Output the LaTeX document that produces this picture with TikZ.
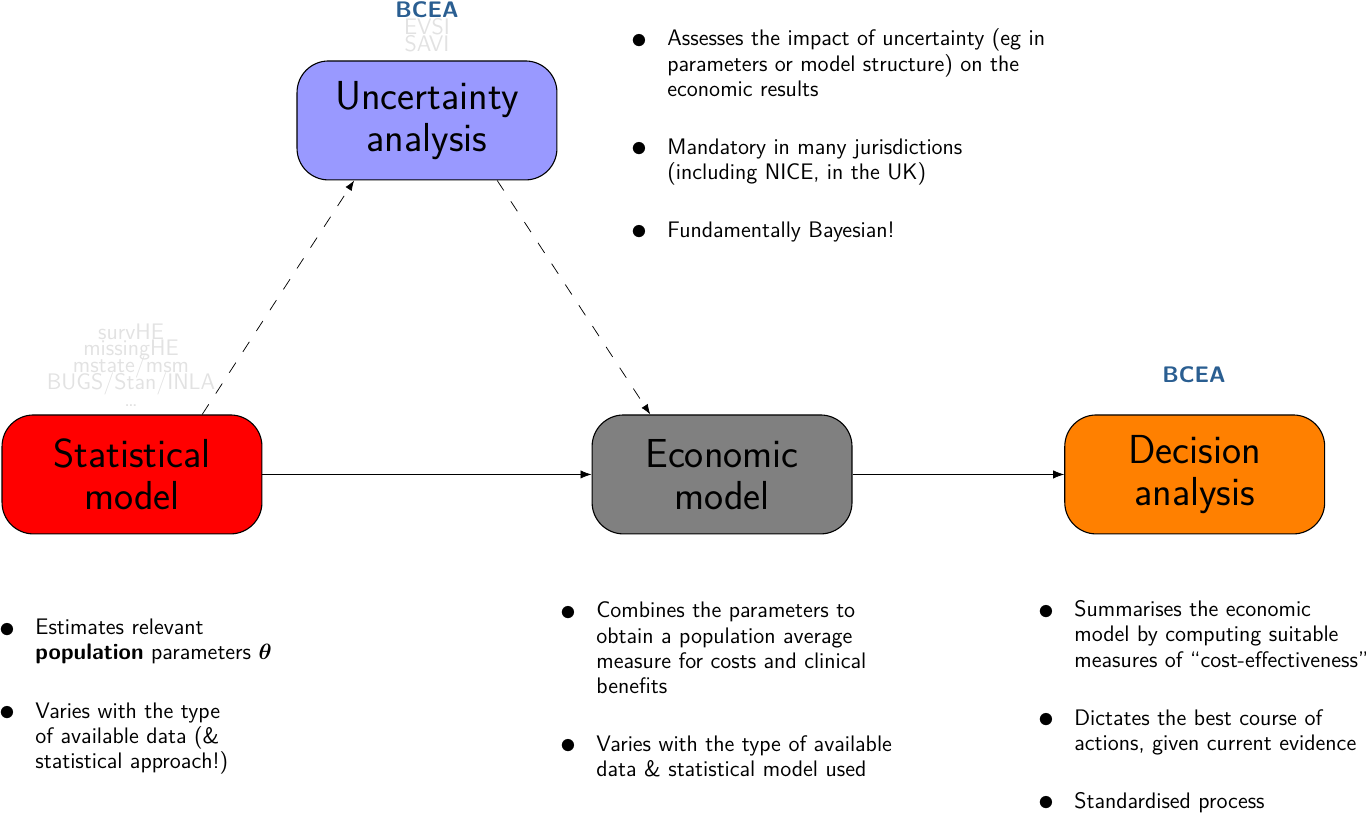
\documentclass[tikz,border=0pt]{standalone}
\usepackage{fontspec}
\usepackage{amsmath}
\usetikzlibrary{positioning, arrows.meta}
\renewcommand{\familydefault}{\sfdefault}
\definecolor{bceablue}{RGB}{42,94,145}
\definecolor{pkggray}{RGB}{226,226,226}
\definecolor{uncblue}{RGB}{153,153,255}
\definecolor{decorange}{RGB}{255,128,0}
\newcommand{\itm}[1]{\noindent\hangindent=16pt\hangafter=0%
  \llap{\raisebox{-1.3pt}{\fontsize{16}{16}\selectfont$\bullet$}\hspace{11pt}}#1\par}
\newcommand{\itmgap}{\vspace{18pt}}
\newcommand{\pkgfont}{\fontsize{12.2}{9.1}\selectfont\setlength{\lineskiplimit}{-20pt}}

\tikzset{
  box/.style={draw, semithick, rounded corners=0.6cm, minimum width=4.96cm,
    minimum height=2.27cm, align=center, font=\fontsize{22}{23}\selectfont},
  notes/.style={text width=10cm, inner sep=0pt, anchor=base west,
    font=\fontsize{12.2}{13.6}\selectfont},
  pkgs/.style={align=center, text=pkggray, inner sep=0pt, font=\pkgfont},
  flow/.style={-{Latex[length=6pt,width=4.5pt]}, thin},
  link/.style={-{Latex[length=5.5pt,width=4pt]}, thin, dash pattern=on 6.5pt off 7pt}
}

\begin{document}
\begin{tikzpicture}
\useasboundingbox (0,0) rectangle (26.07,15.534);

% the four steps
\node[box, fill=red] (stat) at (2.519,6.479) {Statistical\\model};
\node[box, fill=gray, right=6.28cm of stat] (econ) {Economic\\model};
\node[box, fill=decorange, right=4.04cm of econ] (dec) {Decision\\analysis};
\node[box, fill=uncblue] (unc) at (8.149,13.235) {Uncertainty\\analysis};

% software
\node[pkgs] (uncpkg) at (8.149,15.02) {\textcolor{bceablue}{\bfseries BCEA}\\EVSI\\SAVI};
\node[pkgs] (statpkg) at (2.50,8.57) {survHE\\missingHE\\mstate/msm\\BUGS/Stan/INLA\\\dots};
\node[text=bceablue, font=\fontsize{12.2}{13.6}\selectfont\bfseries] (decpkg) at (22.786,8.378) {BCEA};

\draw[flow] (stat) -- (econ);
\draw[flow] (econ) -- (dec);
\draw[link] ([xshift=1.34cm]stat.north) -- ([xshift=-1.39cm]unc.south);
\draw[link] ([xshift=1.34cm]unc.south) -- ([xshift=-1.37cm]econ.north);

% notes
\node[notes] (uncnotes) at (12.168,14.656) {%
  \itm{Assesses the impact of uncertainty (eg in\newline parameters or model structure) on the\newline economic results}\itmgap
  \itm{Mandatory in many jurisdictions\newline (including NICE, in the UK)}\itmgap
  \itm{Fundamentally Bayesian!}};
\node[notes] (statnotes) at (0.107,3.416) {%
  \itm{Estimates relevant\newline \textbf{population} parameters $\boldsymbol{\theta}$}\itmgap
  \itm{Varies with the type\newline of available data (\&\newline statistical approach!)}};
\node[notes] (econnotes) at (10.813,3.740) {%
  \itm{Combines the parameters to\newline obtain a population average\newline measure for costs and clinical\newline benefits}\itmgap
  \itm{Varies with the type of available\newline data \& statistical model used}};
\node[notes] (decnotes) at (19.935,3.760) {%
  \itm{Summarises the economic\newline model by computing suitable\newline measures of ``cost-effectiveness''}\itmgap
  \itm{Dictates the best course of\newline actions, given current evidence}\itmgap
  \itm{Standardised process}};
\end{tikzpicture}
\end{document}
